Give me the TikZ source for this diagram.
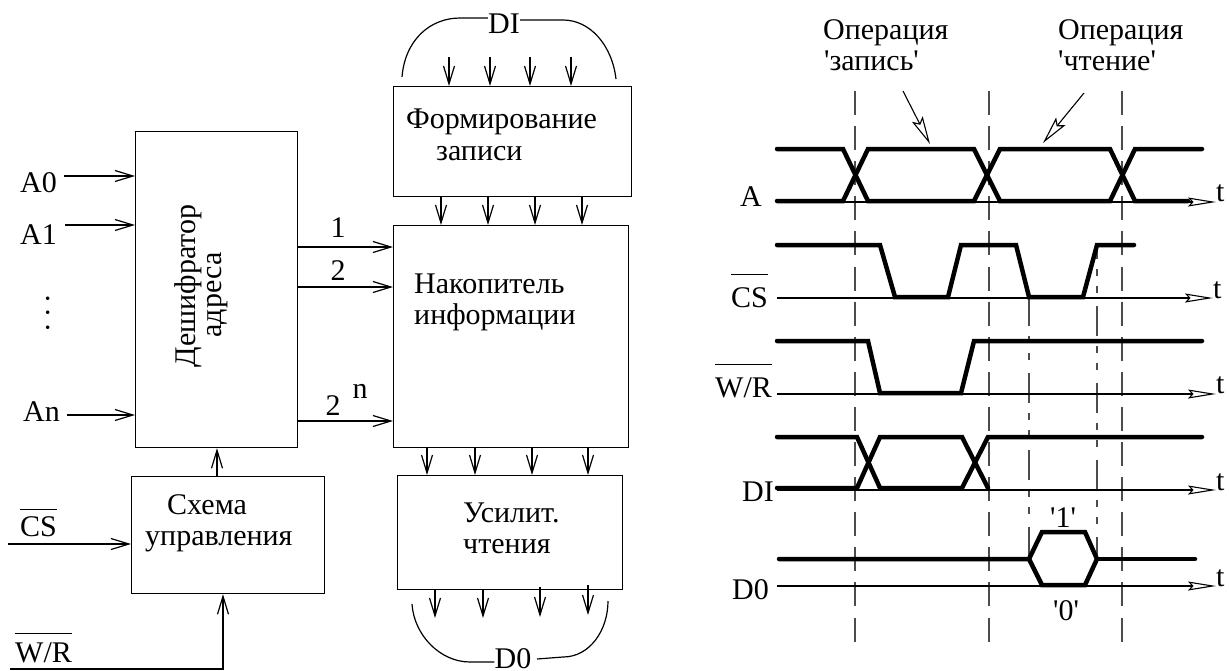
\documentclass[tikz,border=0pt]{standalone}
\usepackage{fontspec}
\setmainfont{Liberation Serif}[Ligatures=TeXOff]
\usetikzlibrary{arrows.meta, positioning}
\newcommand{\barred}[2][6pt]{\leavevmode\vbox{\hrule height 1.2pt \kern #1 \hbox{#2}}}

\begin{document}
\begin{tikzpicture}[
    x=1pt, y=-1pt,
    block/.style={rectangle, draw=black, line width=1.2pt, anchor=north west, inner sep=0pt},
    lbl/.style={font=\fontsize{30}{32}\selectfont, inner sep=0pt, anchor=base west},
    lblc/.style={lbl, anchor=base},
    vlbl/.style={lbl, rotate=90, anchor=base},
    wire/.style={-{Straight Barb[length=18pt, width=11pt]}, line width=1.2pt},
    plain/.style={line width=1.2pt},
    axis/.style={-{Stealth[open, length=28pt, width=9pt, inset=4pt]}, line width=1.1pt},
    note/.style={-{Stealth[open, length=28pt, width=12pt, inset=5pt]}, line width=1.1pt},
    sig/.style={line width=4.5pt, line cap=round, line join=miter},
    guide/.style={line width=1.1pt, black!70, dash pattern=on 24pt off 11.1pt},
    guideb/.style={line width=1.1pt, black!70, dash pattern=on 30pt off 10pt on 7pt off 10pt on 7pt off 13pt}
]
\useasboundingbox (0,0) rectangle (1229,670);

% left part: blocks
\node[block, minimum width=238pt, minimum height=110pt] (form) at (393,86) {};
\node[block, minimum width=235pt, minimum height=222pt] (store) at (393,225) {};
\node[block, minimum width=225pt, minimum height=114pt] (amp) at (397,475) {};
\node[block, minimum width=162pt, minimum height=316pt] (dec) at (135,131) {};
\node[block, minimum width=193pt, minimum height=117pt] (ctrl) at (131,476) {};

\node[lbl] (formA) at (406,128) {Формирование};
\node[lbl] (formB) at (436,160) {записи};
\node[lbl] (storeA) at (414,293) {Накопитель};
\node[lbl] (storeB) at (414,324) {информации};
\node[lbl] (ampA) at (463,522) {Усилит.};
\node[lbl] (ampB) at (463,553) {чтения};
\node[lbl] (ctrlA) at (167,514) {Схема};
\node[lbl] (ctrlB) at (145,545) {управления};
\node[vlbl] (decA) at (195,286) {Дешифратор};
\node[vlbl] (decB) at (221,295) {адреса};

% left part: labels
\node[lblc] (di) at (504,33) {DI};
\node[lblc] (d0) at (513,668) {D0};
\node[lbl] (a0) at (20,192) {A0};
\node[lbl] (a1) at (20,244) {A1};
\node[lbl] (an) at (23,421) {An};
\node[lbl, rotate=90, anchor=center] (dots) at (48,313) {.\hspace{7pt}.\hspace{7pt}.};
\node[lbl] (cs) at (20,536) {\barred{CS}};
\node[lbl] (wr) at (15,662) {\barred[8pt]{W/R}};
\node[lblc] (n1) at (338,237) {1};
\node[lblc] (n2) at (338,280) {2};
\node[lblc] (nn) at (333,415) {2};
\node[lblc] (nup) at (360,398) {n};

% left part: connectors
\draw[plain] (402,77) .. controls (405,40) and (430,18) .. (460,18) -- (di.west |- 0,18);
\draw[plain] (616,79) .. controls (612,45) and (590,20) .. (563,20) -- (di.east |- 0,20);
\draw[plain] (412,604) .. controls (414,635) and (440,662) .. (470,662) -- (d0.west |- 0,662);
\draw[plain] (608,601) .. controls (608,630) and (590,657) .. (563,657) -- (537,659);

\draw[wire] (449,57) -- (449,57 |- form.north);
\draw[wire] (490,57) -- (490,57 |- form.north);
\draw[wire] (530,57) -- (530,57 |- form.north);
\draw[wire] (571,57) -- (571,57 |- form.north);

\draw[wire] (441,196) -- (441,196 |- store.north);
\draw[wire] (488,196) -- (488,196 |- store.north);
\draw[wire] (535,196) -- (535,196 |- store.north);
\draw[wire] (582,196) -- (582,196 |- store.north);

\draw[wire] (427,447) -- (427,447 |- amp.north);
\draw[wire] (475,447) -- (475,447 |- amp.north);
\draw[wire] (532,447) -- (532,447 |- amp.north);
\draw[wire] (588,447) -- (588,447 |- amp.north);

\draw[wire] (435,589) -- (435,618);
\draw[wire] (483,589) -- (483,618);
\draw[wire] (540,587) -- (540,617);
\draw[wire] (588,585) -- (588,615);

\draw[wire] (64,176) -- (dec.west |- 0,176);
\draw[wire] (65,225) -- (dec.west |- 0,225);
\draw[wire] (67,415) -- (dec.west |- 0,415);
\draw[wire] (dec.east |- 0,247) -- (store.west |- 0,247);
\draw[wire] (dec.east |- 0,287) -- (store.west |- 0,287);
\draw[wire] (dec.east |- 0,421) -- (store.west |- 0,421);
\draw[wire] (217,476) -- (217,476 |- dec.south);
\draw[wire] (8,544) -- (ctrl.west |- 0,544);
\draw[wire] (10,669) -- (223,669) -- (223,669 |- ctrl.south);

% right part: guides
\draw[guide] (855,91) -- (855,642);
\draw[guide] (989,91) -- (989,642);
\draw[guide] (1122,91) -- (1122,642);
\draw[guideb, dash phase=0pt] (1029,296) -- (1029,559);
\draw[guideb, dash phase=19pt] (1097,248) -- (1097,559);

% right part: axis labels
\node[lbl] (sa) at (740,206) {A};
\node[lbl] (scs) at (731,307) {\barred[12pt]{CS}};
\node[lbl] (swr) at (715,397) {\barred[12pt]{W/R}};
\node[lbl] (sdi) at (742,501) {DI};
\node[lbl] (sd0) at (732,599) {D0};
\node[lbl] (ta) at (1216,201) {t};
\node[lbl] (tcs) at (1213,298) {t};
\node[lbl] (twr) at (1216,393) {t};
\node[lbl] (tdi) at (1216,490) {t};
\node[lbl] (td0) at (1216,586) {t};

\draw[axis] (777,202) -- (ta.west |- 0,202);
\draw[axis] (777,298) -- (tcs.west |- 0,298);
\draw[axis] (777,394) -- (twr.west |- 0,394);
\draw[axis] (777,490) -- (tdi.west |- 0,490);
\draw[axis] (777,586) -- (td0.west |- 0,586);

% right part: signals
\draw[sig] (777,149) -- (843,149) -- (868,201) -- (974,201) -- (1000,149) -- (1110,149) -- (1135,201) -- (1188,201);
\draw[sig] (777,201) -- (843,201) -- (868,149) -- (974,149) -- (1000,201) -- (1110,201) -- (1135,149) -- (1202,149);
\draw[sig] (777,245) -- (880,245) -- (895,297) -- (948,297) -- (961,245) -- (1016,245) -- (1029,297) -- (1083,297) -- (1097,245) -- (1134,245);
\draw[sig] (777,341) -- (868,341) -- (880,393) -- (961,393) -- (974,341) -- (1202,341);
\draw[sig] (777,437) -- (857,437) -- (880,488) -- (962,488) -- (988,437) -- (1202,437);
\draw[sig] (777,488) -- (857,488) -- (880,437) -- (962,437) -- (988,488);
\draw[sig] (779,559) -- (1029,559) -- (1042,532) -- (1085,532) -- (1097,559) -- (1085,585) -- (1042,585) -- (1029,559);
\draw[sig] (1097,559) -- (1195,559);

\node[lblc] (one) at (1063,527) {'1'};
\node[lblc] (zero) at (1066,620) {'0'};

% right part: notes
\node[lbl] (wrA) at (823,39) {Операция};
\node[lbl] (wrB) at (824,70) {'запись'};
\node[lbl] (rdA) at (1058,39) {Операция};
\node[lbl] (rdB) at (1058,70) {'чтение'};
\draw[note] (903,91) -- (930,144);
\draw[note] (1084,93) -- (1043,143);
\end{tikzpicture}
\end{document}
